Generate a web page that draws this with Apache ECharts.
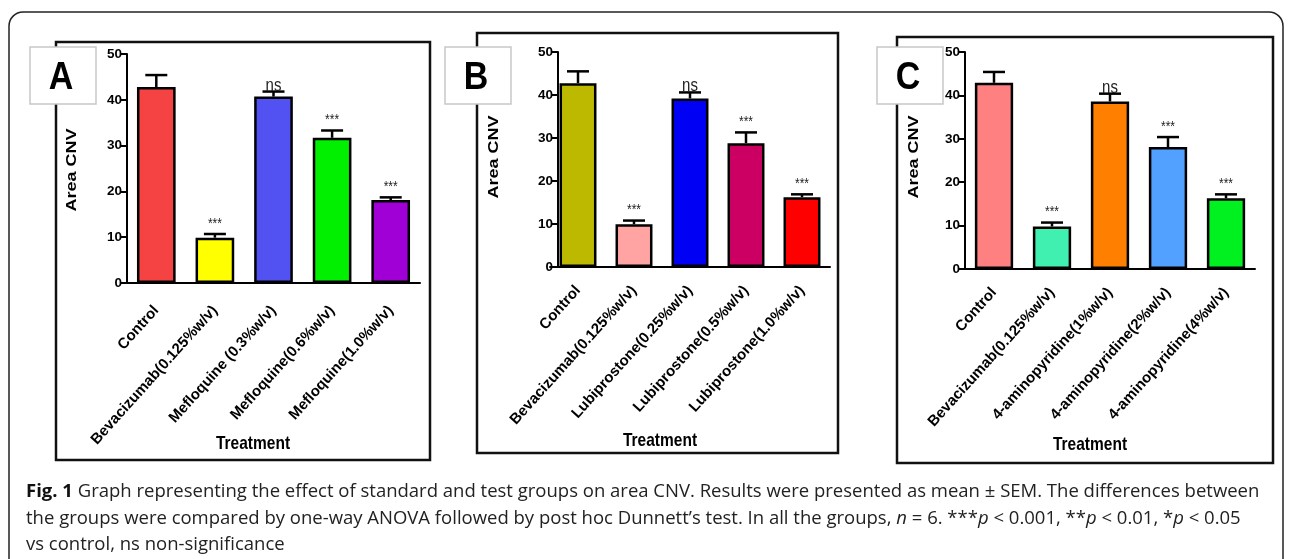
<!DOCTYPE html>
<html>
<head>
<meta charset="utf-8">
<script src="https://cdn.jsdelivr.net/npm/echarts@6/dist/echarts.min.js"></script>
<style>
html,body{margin:0;padding:0;background:#fff;}
#c{width:1290px;height:559px;}
</style>
</head>
<body>
<div id="c"></div>
<script>
// ---------- data ----------
const catsA = ['Control', 'Bevacizumab(0.125%w/v)', 'Mefloquine (0.3%w/v)', 'Mefloquine(0.6%w/v)', 'Mefloquine(1.0%w/v)'];
const meanA = [42.8, 9.9, 40.7, 31.7, 18.1];
const semA  = [2.6, 0.8, 1.1, 1.6, 0.6];
const sigA  = ['', '***', 'ns', '***', '***'];

const catsB = ['Control', 'Bevacizumab(0.125%w/v)', 'Lubiprostone(0.25%w/v)', 'Lubiprostone(0.5%w/v)', 'Lubiprostone(1.0%w/v)'];
const meanB = [42.75, 9.95, 39.2, 28.8, 16.25];
const semB  = [2.75, 0.85, 1.4, 2.5, 0.65];
const sigB  = ['', '***', 'ns', '***', '***'];

const catsC = ['Control', 'Bevacizumab(0.125%w/v)', '4-aminopyridine(1%w/v)', '4-aminopyridine(2%w/v)', '4-aminopyridine(4%w/v)'];
const meanC = [42.9, 9.8, 38.6, 28.1, 16.3];
const semC  = [2.5, 0.9, 1.8, 2.3, 0.9];
const sigC  = ['', '***', 'ns', '***', '***'];

const yTicks = [0, 10, 20, 30, 40, 50];
const yTitle = 'Area CNV';
const xTitle = 'Treatment';
const panelLetters = ['A', 'B', 'C'];

// ---------- styles ----------
const colorsA = ['#f54242', '#ffff00', '#5252f2', '#00f000', '#a000d6'];
const colorsB = ['#bdb800', '#ffa3a3', '#0000f5', '#cc0062', '#ff0000'];
const colorsC = ['#ff8080', '#40f0b0', '#ff8000', '#52a0ff', '#00f020'];

const AR = 'Liberation Sans, Arial, sans-serif';
const CAP = 'Open Sans, Noto Sans, sans-serif';

const panels = [
  {cats: catsA, mean: meanA, sem: semA, sig: sigA, colors: colorsA,
   grid: {left: 127, top: 54, width: 293, height: 229}, yOffset: 0, labelMargin: 25},
  {cats: catsB, mean: meanB, sem: semB, sig: sigB, colors: colorsB,
   grid: {left: 550, top: 52, width: 280, height: 215}, yOffset: -8, labelMargin: 21},
  {cats: catsC, mean: meanC, sem: semC, sig: sigC, colors: colorsC,
   grid: {left: 965, top: 52, width: 290, height: 217}, yOffset: 0, labelMargin: 21}
];

const grids = [], xAxes = [], yAxes = [], series = [];
panels.forEach((p, k) => {
  grids.push(Object.assign({containLabel: false}, p.grid));
  xAxes.push({
    type: 'category', gridIndex: k, data: p.cats,
    axisLine: {lineStyle: {color: '#000', width: 2}},
    axisTick: {alignWithLabel: true, length: 6, lineStyle: {color: '#000', width: 2}},
    axisLabel: {interval: 0, rotate: 48, margin: p.labelMargin, color: '#000', fontFamily: AR, fontWeight: 'bold', fontSize: 15},
    splitLine: {show: false}
  });
  yAxes.push({
    type: 'value', gridIndex: k, min: 0, max: 50, interval: 10, offset: p.yOffset,
    axisLine: {show: true, lineStyle: {color: '#000', width: 2}},
    axisTick: {show: true, length: 6, lineStyle: {color: '#000', width: 2}},
    axisLabel: {color: '#000', fontFamily: AR, fontWeight: 'bold', fontSize: 13.5, margin: 5,
      formatter: v => yTicks.indexOf(v) >= 0 ? String(v) : ''},
    splitLine: {show: false}
  });
  series.push({
    type: 'bar', xAxisIndex: k, yAxisIndex: k, barCategoryGap: '34%',
    data: p.mean.map((v, i) => ({value: v, itemStyle: {color: p.colors[i]}})),
    itemStyle: {borderColor: '#000', borderWidth: 2.5},
    emphasis: {disabled: true}, silent: true, animation: false
  });
  series.push({
    type: 'custom', xAxisIndex: k, yAxisIndex: k, z: 5, clip: false, silent: true, animation: false,
    data: p.mean.map((v, i) => [i, v, p.sem[i]]),
    renderItem: function (params, api) {
      const i = api.value(0), m = api.value(1), e = api.value(2);
      const p0 = api.coord([i, m]);
      const p1 = api.coord([i, m + e]);
      const hw = 11;
      const sig = p.sig[params.dataIndex];
      const children = [
        {type: 'line', shape: {x1: p0[0], y1: p0[1], x2: p1[0], y2: p1[1]}, style: {stroke: '#000', lineWidth: 2.5}},
        {type: 'line', shape: {x1: p1[0] - hw, y1: p1[1], x2: p1[0] + hw, y2: p1[1]}, style: {stroke: '#000', lineWidth: 2.5}}
      ];
      if (sig) {
        const isNs = sig === 'ns';
        children.push({
          type: 'text', x: p1[0], y: p1[1] + (isNs ? 3 : -3), scaleY: 1.2,
          style: {text: sig, x: 0, y: 0, align: 'center', verticalAlign: 'bottom',
            fontFamily: AR, fontSize: isNs ? 15 : 12, fill: '#222'}
        });
      }
      return {type: 'group', children: children};
    }
  });
});

// ---------- decorations ----------
const graphic = [];
// outer frame (rounded top corners, runs off the bottom)
graphic.push({type: 'rect', z: -2, shape: {x: 9, y: 12, width: 1274, height: 600, r: [14, 14, 0, 0]},
  style: {fill: 'none', stroke: '#222', lineWidth: 1.5}});
// panel frames
[[56, 42, 374, 418], [477, 33, 361, 420], [897, 37, 376, 426]].forEach(r => {
  graphic.push({type: 'rect', z: -1, shape: {x: r[0], y: r[1], width: r[2], height: r[3]},
    style: {fill: '#fff', stroke: '#111', lineWidth: 2.5}});
});
// letter boxes
[[30, 47], [445, 47], [877, 47]].forEach((b, k) => {
  graphic.push({type: 'rect', z: 10, shape: {x: b[0], y: b[1], width: 66, height: 57},
    style: {fill: '#fff', stroke: '#c8c8c8', lineWidth: 1.5}});
  graphic.push({type: 'text', z: 11, x: b[0] + 31, y: b[1] + 31, scaleY: 1.15,
    style: {text: panelLetters[k], x: 0, y: 0, align: 'center', verticalAlign: 'middle',
      fontFamily: AR, fontWeight: 'bold', fontSize: 34, fill: '#000'}});
});
// y axis titles
[[72, 170], [494, 157], [914, 157]].forEach(t => {
  graphic.push({type: 'text', z: 11, x: t[0], y: t[1], rotation: Math.PI / 2, scaleX: 1.2,
    style: {text: yTitle, x: 0, y: 0, align: 'center', verticalAlign: 'middle',
      fontFamily: AR, fontWeight: 'bold', fontSize: 15, fill: '#000'}});
});
// x axis titles
[[253, 444], [660, 441], [1090, 445]].forEach(t => {
  graphic.push({type: 'text', z: 11, x: t[0], y: t[1], scaleY: 1.2,
    style: {text: xTitle, x: 0, y: 0, align: 'center', verticalAlign: 'middle',
      fontFamily: AR, fontWeight: 'bold', fontSize: 15.5, fill: '#000'}});
});
// caption
const rs = {fontFamily: CAP, fontSize: 18.5, fill: '#222'};
const rich = {
  r: Object.assign({}, rs),
  b: Object.assign({}, rs, {fontWeight: 'bold', fill: '#111'}),
  i: Object.assign({}, rs, {fontStyle: 'italic'})
};
const capLines = [
  '{b|Fig. 1}{r| Graph representing the effect of standard and test groups on area CNV. Results were presented as mean ± SEM. The differences between}',
  '{r|the groups were compared by one-way ANOVA followed by post hoc Dunnett’s test. In all the groups, }{i|n}{r| = 6. ***}{i|p}{r| < 0.001, **}{i|p}{r| < 0.01, *}{i|p}{r| < 0.05}',
  '{r|vs control, ns non-significance}'
];
[492, 519, 545].forEach((y, k) => {
  graphic.push({type: 'text', z: 11, x: 26, y: y,
    style: {text: capLines[k], rich: rich, x: 0, y: 0, align: 'left', verticalAlign: 'middle',
      fontFamily: CAP, fontSize: 18.5, fill: '#222'}});
});

const chart = echarts.init(document.getElementById('c'), null, {renderer: 'canvas'});
chart.setOption({
  backgroundColor: '#fff',
  animation: false,
  grid: grids, xAxis: xAxes, yAxis: yAxes, series: series,
  graphic: graphic
});
</script>
</body>
</html>
